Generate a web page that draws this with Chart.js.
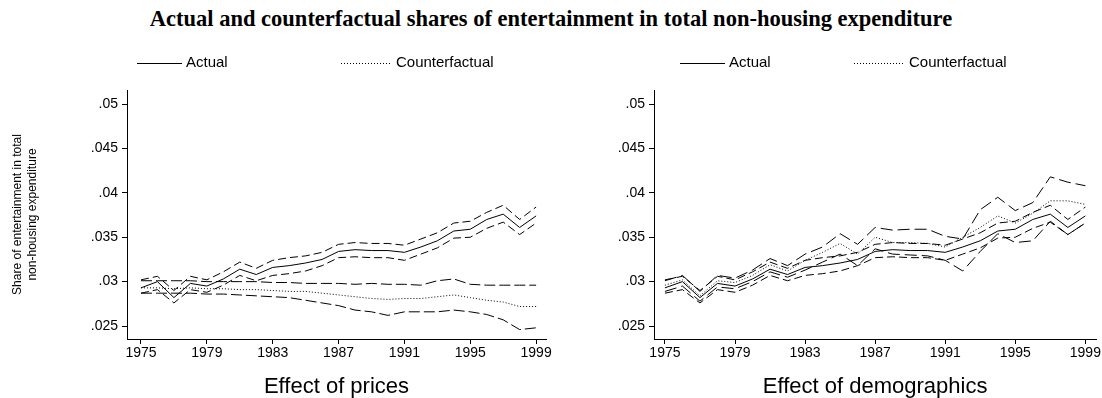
<!DOCTYPE html>
<html lang="en">
<head>
<meta charset="UTF-8" />
<title>Entertainment shares</title>
<script src="https://cdn.jsdelivr.net/npm/chart.js@4"></script>
<style>
  body { margin: 0; background: #fff; width: 1102px; height: 398px; position: relative; overflow: hidden; }
  .titulo {
    position: absolute; left: 0; top: 6px; width: 1102px; text-align: center;
    font: bold 22.5px "Liberation Serif", "Times New Roman", serif; color: #000;
  }
  .painel { position: absolute; top: 0; height: 398px; }
</style>
</head>
<body>
<div class="titulo">Actual and counterfactual shares of entertainment in total non-housing expenditure</div>
<div class="painel" style="left:0;width:560px"><canvas id="precos"></canvas></div>
<div class="painel" style="left:560px;width:542px"><canvas id="demografia"></canvas></div>
<script>
  // years and axis ticks
  const anos = [1975, 1976, 1977, 1978, 1979, 1980, 1981, 1982, 1983, 1984, 1985, 1986, 1987,
                1988, 1989, 1990, 1991, 1992, 1993, 1994, 1995, 1996, 1997, 1998, 1999];
  const ticksX = [1975, 1979, 1983, 1987, 1991, 1995, 1999];
  const ticksY = [0.025, 0.03, 0.035, 0.04, 0.045, 0.05];

  // actual share and its band (same in both panels)
  const atual   = [.0293, .0300, .0282, .0298, .0295, .0303, .0314, .0308, .0316, .0318, .0321, .0325, .0334,
                   .0336, .0335, .0335, .0333, .0339, .0346, .0357, .0359, .0370, .0376, .0361, .0374];
  const atualHi = [.0302, .0306, .0290, .0306, .0302, .0311, .0322, .0315, .0324, .0327, .0329, .0333, .0342,
                   .0344, .0343, .0343, .0341, .0348, .0355, .0366, .0368, .0378, .0386, .0370, .0384];
  const atualLo = [.0287, .0291, .0276, .0291, .0288, .0296, .0307, .0301, .0307, .0309, .0312, .0318, .0327,
                   .0328, .0327, .0327, .0324, .0331, .0338, .0349, .0350, .0360, .0367, .0353, .0366];

  // counterfactual: prices held fixed
  const cfPrecos   = [.0293, .0293, .0292, .0293, .0292, .0292, .0291, .0291, .0290, .0289, .0289, .0287, .0285,
                      .0283, .0281, .0280, .0281, .0281, .0283, .0285, .0282, .0279, .0277, .0272, .0272];
  const cfPrecosHi = [.0301, .0301, .0301, .0301, .0300, .0300, .0300, .0300, .0299, .0299, .0298, .0298, .0298,
                      .0297, .0298, .0297, .0297, .0296, .0301, .0303, .0297, .0296, .0296, .0296, .0296];
  const cfPrecosLo = [.0287, .0287, .0287, .0287, .0286, .0286, .0285, .0284, .0283, .0282, .0279, .0276, .0273,
                      .0268, .0266, .0262, .0266, .0266, .0266, .0268, .0266, .0263, .0257, .0246, .0248];

  // counterfactual: demographics held fixed
  const cfDemo   = [.0296, .0302, .0284, .0301, .0299, .0307, .0319, .0312, .0324, .0333, .0343, .0331, .0350,
                    .0344, .0344, .0343, .0339, .0350, .0361, .0374, .0366, .0377, .0391, .0391, .0387];
  const cfDemoHi = [.0301, .0307, .0289, .0307, .0304, .0313, .0326, .0318, .0331, .0339, .0354, .0342, .0361,
                    .0358, .0359, .0359, .0351, .0348, .0381, .0395, .0380, .0389, .0418, .0412, .0408];
  const cfDemoLo = [.0289, .0295, .0278, .0294, .0292, .0300, .0311, .0305, .0313, .0322, .0331, .0318, .0337,
                    .0331, .0330, .0329, .0324, .0312, .0334, .0354, .0344, .0346, .0368, .0353, .0366];

  Chart.defaults.font.family = '"Liberation Sans", Arial, sans-serif';
  Chart.defaults.color = '#000';

  function serie(label, valores, dash) {
    return {
      label: label,
      data: valores.map((v, i) => ({ x: anos[i], y: v })),
      borderColor: '#000',
      borderWidth: 1,
      borderDash: dash,
      pointRadius: 0,
      fill: false,
      tension: 0
    };
  }

  // legend drawn as a short line sample followed by the label
  const chaveLinhas = {
    id: 'chaveLinhas',
    afterDraw(chart, args, opts) {
      const ctx = chart.ctx;
      ctx.save();
      ctx.font = '15px "Liberation Sans", Arial, sans-serif';
      ctx.textBaseline = 'middle';
      ctx.fillStyle = '#000';
      opts.itens.forEach(item => {
        const ds = chart.data.datasets.find(d => d.label === item.label);
        ctx.beginPath();
        ctx.setLineDash(ds.borderDash || []);
        ctx.lineWidth = 1;
        ctx.strokeStyle = '#000';
        ctx.moveTo(item.x, opts.y + 0.5);
        ctx.lineTo(item.x + item.w, opts.y + 0.5);
        ctx.stroke();
        ctx.setLineDash([]);
        ctx.fillText(item.label, item.x + item.w + 4, opts.y);
      });
      ctx.restore();
    }
  };

  function eixos(xMin, xMax, larguraY, tituloX, tituloY) {
    return {
      x: {
        type: 'linear', min: xMin, max: xMax,
        afterBuildTicks: s => { s.ticks = ticksX.map(v => ({ value: v })); },
        afterFit: s => { s.height = 59; },
        grid: { drawOnChartArea: false, tickLength: 5, color: '#000' },
        border: { color: '#000' },
        ticks: { font: { size: 14 }, padding: 1, maxRotation: 0, autoSkip: false, callback: v => String(v) },
        title: { display: true, text: tituloX, font: { size: 22, lineHeight: 1 }, padding: { top: 0, bottom: 0 } }
      },
      y: {
        min: 0.02354, max: 0.05158,
        afterBuildTicks: s => { s.ticks = ticksY.map(v => ({ value: v })); },
        afterFit: s => { s.width = larguraY; },
        grid: { drawOnChartArea: false, tickLength: 5, color: '#000' },
        border: { color: '#000' },
        ticks: { font: { size: 14 }, padding: 4,
                 callback: v => v.toFixed(3).replace(/0+$/, '').replace(/^0/, '') },
        title: tituloY
          ? { display: true, text: tituloY, font: { size: 12 }, padding: { top: 10.8, bottom: 0 } }
          : { display: false }
      }
    };
  }

  function grafico(id, datasets, escalas, padDireita, legenda) {
    return new Chart(document.getElementById(id), {
      type: 'line',
      data: { datasets: datasets },
      options: {
        responsive: true,
        maintainAspectRatio: false,
        animation: false,
        layout: { padding: { top: 90, right: padDireita, left: 0, bottom: 0 } },
        plugins: { legend: { display: false }, tooltip: { enabled: false }, chaveLinhas: legenda },
        scales: escalas
      },
      plugins: [chaveLinhas]
    });
  }

  grafico('precos', [
    serie('Actual', atual, []),
    serie('Actual upper', atualHi, [8, 4]),
    serie('Actual lower', atualLo, [8, 4]),
    serie('Counterfactual', cfPrecos, [1, 2]),
    serie('Counterfactual upper', cfPrecosHi, [11, 4]),
    serie('Counterfactual lower', cfPrecosLo, [11, 4])
  ], eixos(1974.15, 1999.6, 127, 'Effect of prices',
           ['Share of entertainment in total', 'non-housing expenditure']), 14,
  { y: 63, itens: [{ label: 'Actual', x: 137, w: 45 }, { label: 'Counterfactual', x: 341, w: 51 }] });

  grafico('demografia', [
    serie('Actual', atual, []),
    serie('Actual upper', atualHi, [8, 4]),
    serie('Actual lower', atualLo, [8, 4]),
    serie('Counterfactual', cfDemo, [1, 2]),
    serie('Counterfactual upper', cfDemoHi, [12, 5]),
    serie('Counterfactual lower', cfDemoLo, [12, 5])
  ], eixos(1974.376, 1999.62, 94, 'Effect of demographics', null), 3,
  { y: 63, itens: [{ label: 'Actual', x: 120, w: 45 }, { label: 'Counterfactual', x: 294, w: 51 }] });
</script>
</body>
</html>
